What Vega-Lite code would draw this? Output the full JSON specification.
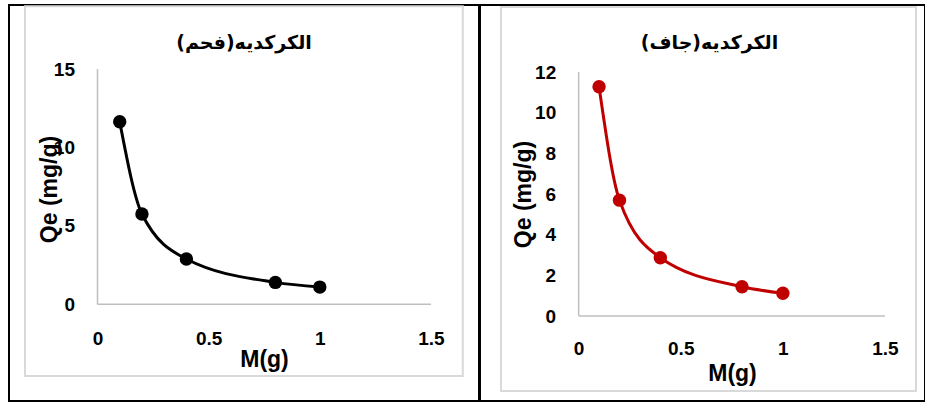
{
  "$schema": "https://vega.github.io/schema/vega-lite/v6.json",
  "padding": {"left": 8, "top": 4, "right": 0, "bottom": 0},
  "spacing": -2,
  "background": "white",
  "config": {
    "view": {"stroke": "black", "strokeWidth": 2},
    "axis": {
      "grid": false, "ticks": false, "domain": false,
      "labelFont": "Liberation Sans", "labelFontSize": 19, "labelFontWeight": "bold", "labelColor": "black",
      "titleFont": "Liberation Sans", "titleFontSize": 23, "titleFontWeight": "bold", "titleColor": "black"
    },
    "title": {"font": "DejaVu Sans", "fontSize": 19, "fontWeight": "bold", "color": "black", "anchor": "middle", "baseline": "middle", "frame": "group"}
  },
  "datasets": {
    "fahm": [
      {"M": 0.1, "Qe": 11.64},
      {"M": 0.2, "Qe": 5.76},
      {"M": 0.4, "Qe": 2.89},
      {"M": 0.8, "Qe": 1.40},
      {"M": 1.0, "Qe": 1.10}
    ],
    "jaf": [
      {"M": 0.1, "Qe": 11.28},
      {"M": 0.2, "Qe": 5.70},
      {"M": 0.4, "Qe": 2.87},
      {"M": 0.8, "Qe": 1.44},
      {"M": 1.0, "Qe": 1.12}
    ],
    "one": [{}]
  },
  "hconcat": [
    {
      "width": 470, "height": 396,
      "title": {"text": "الكركديه(فحم)", "offset": -48},
      "layer": [
        {
          "data": {"name": "one"},
          "mark": {"type": "rect", "fillOpacity": 0, "stroke": "#d9d9d9", "strokeWidth": 2},
          "encoding": {
            "x": {"datum": -0.326, "type": "quantitative"},
            "x2": {"datum": 1.643},
            "y": {"datum": 19.0, "type": "quantitative"},
            "y2": {"datum": -4.57}
          }
        },
        {
          "data": {"name": "one"},
          "mark": {"type": "rule", "color": "#bfbfbf", "strokeWidth": 1.5},
          "encoding": {
            "x": {"datum": 0, "type": "quantitative"},
            "x2": {"datum": 1.5},
            "y": {"datum": 0, "type": "quantitative"}
          }
        },
        {
          "data": {"name": "one"},
          "mark": {"type": "rule", "color": "#bfbfbf", "strokeWidth": 1.5},
          "encoding": {
            "x": {"datum": 0, "type": "quantitative"},
            "y": {"datum": 0, "type": "quantitative"},
            "y2": {"datum": 15}
          }
        },
        {
          "data": {"name": "fahm"},
          "mark": {"type": "line", "color": "black", "strokeWidth": 3, "interpolate": "monotone"},
          "encoding": {
            "x": {"field": "M", "type": "quantitative",
              "scale": {"domain": [-0.398, 1.716], "nice": false, "zero": false},
              "axis": {"values": [0, 0.5, 1, 1.5], "format": "~g", "offset": -96.7, "title": "M(g)", "titleX": 255, "titleY": 55, "titleBaseline": "middle", "labelPadding": 34, "labelBaseline": "middle"}},
            "y": {"field": "Qe", "type": "quantitative",
              "scale": {"domain": [-6.16, 19.08], "nice": false, "zero": false},
              "axis": {"values": [0, 5, 10, 15], "format": "~g", "offset": -88.5, "title": "Qe (mg/g)", "titleX": -48, "titleY": 184, "titleBaseline": "middle", "labelPadding": 23}}
          }
        },
        {
          "data": {"name": "fahm"},
          "mark": {"type": "point", "filled": true, "color": "black", "opacity": 1, "size": 180},
          "encoding": {
            "x": {"field": "M", "type": "quantitative"},
            "y": {"field": "Qe", "type": "quantitative"}
          }
        }
      ]
    },
    {
      "width": 445, "height": 396,
      "title": {"text": "الكركديه(جاف)", "offset": -48, "dx": 7},
      "layer": [
        {
          "data": {"name": "one"},
          "mark": {"type": "rect", "fillOpacity": 0, "stroke": "#d9d9d9", "strokeWidth": 2},
          "encoding": {
            "x": {"datum": -0.38, "type": "quantitative"},
            "x2": {"datum": 1.652},
            "y": {"datum": 15.2, "type": "quantitative"},
            "y2": {"datum": -3.69}
          }
        },
        {
          "data": {"name": "one"},
          "mark": {"type": "rule", "color": "#bfbfbf", "strokeWidth": 1.5},
          "encoding": {
            "x": {"datum": 0, "type": "quantitative"},
            "x2": {"datum": 1.5},
            "y": {"datum": 0, "type": "quantitative"}
          }
        },
        {
          "data": {"name": "one"},
          "mark": {"type": "rule", "color": "#bfbfbf", "strokeWidth": 1.5},
          "encoding": {
            "x": {"datum": 0, "type": "quantitative"},
            "y": {"datum": 0, "type": "quantitative"},
            "y2": {"datum": 12}
          }
        },
        {
          "data": {"name": "jaf"},
          "mark": {"type": "line", "color": "#C00000", "strokeWidth": 3, "interpolate": "monotone"},
          "encoding": {
            "x": {"field": "M", "type": "quantitative",
              "scale": {"domain": [-0.483, 1.696], "nice": false, "zero": false},
              "axis": {"values": [0, 0.5, 1, 1.5], "format": "~g", "offset": -85, "title": "M(g)", "titleX": 252, "titleY": 57, "titleBaseline": "middle", "labelPadding": 32, "labelBaseline": "middle"}},
            "y": {"field": "Qe", "type": "quantitative",
              "scale": {"domain": [-4.18, 15.30], "nice": false, "zero": false},
              "axis": {"values": [0, 2, 4, 6, 8, 10, 12], "format": "~g", "offset": -98.7, "title": "Qe (mg/g)", "titleX": -55, "titleY": 189, "titleBaseline": "middle", "labelPadding": 23}}
          }
        },
        {
          "data": {"name": "jaf"},
          "mark": {"type": "point", "filled": true, "color": "#C00000", "opacity": 1, "size": 180},
          "encoding": {
            "x": {"field": "M", "type": "quantitative"},
            "y": {"field": "Qe", "type": "quantitative"}
          }
        }
      ]
    }
  ]
}
